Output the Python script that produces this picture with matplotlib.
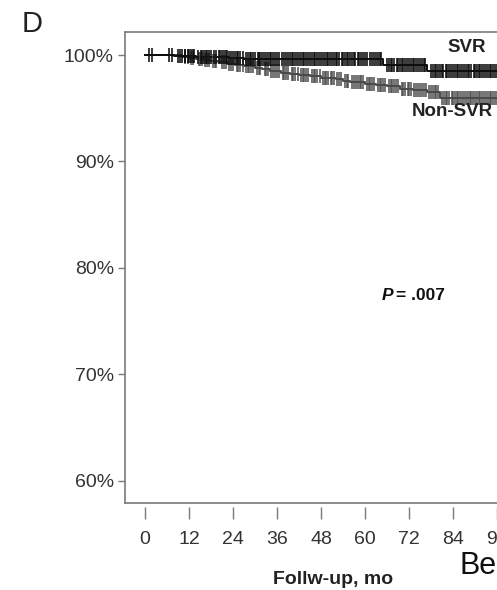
import numpy as np
import matplotlib
matplotlib.use("Agg")
import matplotlib.pyplot as plt

plt.rcParams["font.family"] = ["Liberation Sans", "DejaVu Sans"]

# Kaplan-Meier steps: (month, cumulative survival %)
svr_times = [0, 8, 14, 19, 23, 27, 65, 77]
svr_surv = [100.0, 99.9, 99.85, 99.78, 99.72, 99.65, 99.08, 98.5]

nonsvr_times = [0, 10, 12, 14, 16, 18, 20, 22.5, 24.5, 27, 30, 32, 34, 37, 39.5,
                42, 45, 48, 52, 54, 56, 60, 63, 66, 69.5, 73, 77, 80.5]
nonsvr_surv = [100.0, 99.85, 99.75, 99.6, 99.5, 99.4, 99.3, 99.2, 99.1, 98.95,
               98.8, 98.65, 98.5, 98.35, 98.2, 98.1, 98.0, 97.85, 97.7, 97.55,
               97.45, 97.3, 97.2, 97.05, 96.8, 96.7, 96.55, 95.95]

# Censoring times (months)
svr_censor = [1, 2, 6.5, 7.5, 9, 9.6, 10, 10.8, 11, 11.7, 12, 12.6, 13, 13.4,
              14.5, 15.2, 15.5, 16, 16.7, 17, 17.5, 18, 18.8, 19.5, 20.1, 20.5,
              21, 21.6, 22, 22.4, 23, 23.5, 24, 24.5, 25.1, 25.5, 26, 26.6, 27.5,
              28, 28.6, 29, 29.5, 30, 30.7, 31, 31.5, 32, 32.5, 33, 33.6, 34,
              34.5, 35, 35.4, 36, 36.6, 37.5, 38, 38.5, 39, 39.6, 40, 40.5, 41,
              41.5, 42, 42.6, 43, 43.5, 44, 44.5, 45, 45.5, 46, 46.5, 47, 47.4,
              48, 48.5, 49, 49.6, 50, 50.5, 51, 51.5, 52, 52.5, 53, 53.6, 54, 54.5,
              55, 55.5, 56, 56.5, 57, 57.4, 58, 58.5, 59, 59.5, 60, 60.5, 61.5,
              62, 62.5, 63, 63.5, 64, 64.5, 66, 66.5, 67, 67.5, 68, 68.6, 69,
              69.5, 70, 70.5, 71, 71.5, 72, 72.6, 73, 73.5, 74, 74.5, 75, 75.5,
              76, 76.5, 78, 78.5, 79, 79.5, 80, 80.5, 81, 81.4, 82, 82.5, 83,
              83.5, 84, 84.6, 85, 85.5, 86, 86.5, 87, 87.5, 88, 88.5, 89, 89.6,
              90, 90.5, 91, 91.5, 92, 92.5, 93, 93.5, 94, 94.5, 95, 95.5, 96,
              96.5, 97, 98, 99, 100, 101]
nonsvr_censor = [11, 11.6, 12.5, 13, 14.6, 15, 15.5, 16.5, 17, 17.5, 18.6, 19,
                 19.5, 21, 21.5, 22, 23, 23.5, 24, 25, 25.5, 26, 26.6, 27.5, 28,
                 28.5, 29, 29.5, 30.5, 31, 31.5, 32.6, 33, 33.5, 34.5, 35, 35.5,
                 36, 36.5, 37.6, 38, 38.5, 39, 40, 40.5, 41, 41.6, 42.5, 43, 43.5,
                 44, 44.5, 45.5, 46, 46.5, 47, 47.6, 48.5, 49, 49.5, 50, 50.6, 51,
                 51.5, 52.5, 53, 53.5, 54.5, 55, 55.5, 56.5, 57, 57.5, 58, 58.6,
                 59, 59.5, 60.5, 61, 61.5, 62, 62.5, 63.5, 64, 64.5, 65, 65.5,
                 66.6, 67, 67.5, 68, 68.5, 69, 70, 70.5, 71, 71.6, 72, 72.5, 73.5,
                 74, 74.5, 75, 75.5, 76, 76.6, 77.5, 78, 78.5, 79, 79.5, 80, 81,
                 81.5, 82, 82.5, 83, 83.6, 84, 84.5, 85, 85.5, 86, 86.5, 87, 87.5,
                 88, 88.6, 89, 89.5, 90, 90.5, 91, 91.5, 92, 92.5, 93, 93.6, 94,
                 94.5, 95, 95.5, 96, 96.5, 97, 98, 99, 100, 101]

x_ticks = [0, 12, 24, 36, 48, 60, 72, 84, 96]
y_ticks = [60, 70, 80, 90, 100]
y_labels = ["60%", "70%", "80%", "90%", "100%"]

W, H = 497, 590
fig = plt.figure(figsize=(W / 100, H / 100), dpi=100)
ax = fig.add_axes([125 / W, (H - 503) / H, (519 - 125) / W, 471 / H])
ax.set_xlim(-5.45, 102)
ax.set_ylim(57.93, 102.16)

spine_col = "#7a7a7a"
for side in ("left", "top", "bottom"):
    ax.spines[side].set_color(spine_col)
    ax.spines[side].set_linewidth(1.2)
ax.spines["right"].set_visible(False)


def km_curve(times, surv, censor, color, alpha):
    t = list(times) + [102]
    s = list(surv) + [surv[-1]]
    ax.step(t, s, where="post", color=color, lw=1.4, zorder=3)
    idx = np.searchsorted(times, censor, side="right") - 1
    cy = np.asarray(surv)[idx]
    ax.plot(censor, cy, ls="none", marker="|", ms=10.5, mew=1.35,
            color=color, alpha=alpha, zorder=4)


km_curve(nonsvr_times, nonsvr_surv, nonsvr_censor, "#4a4a4a", 0.8)
km_curve(svr_times, svr_surv, svr_censor, "#0d0d0d", 0.85)

# y axis
ax.set_yticks(y_ticks)
ax.set_yticklabels(y_labels)
ax.tick_params(axis="y", direction="out", length=5, width=1, color=spine_col,
               labelsize=14, labelcolor="#333333", pad=3)

# x axis: ticks detached from the frame
ax.set_xticks([])
sec = ax.secondary_xaxis(-4 / 471)
sec.spines["bottom"].set_visible(False)
sec.set_xticks(x_ticks)
sec.tick_params(axis="x", direction="out", length=8.5, width=1, color=spine_col,
                labelsize=14, labelcolor="#333333", pad=9)


def ftext(x, y, s, **kw):
    fig.text(x / W, 1 - y / H, s, **kw)


ftext(22, 24, "D", fontsize=21, va="center", ha="left", color="#222222")
ftext(447, 47, "SVR", fontsize=13.5, fontweight="bold", va="center", ha="left",
      color="#222222")
ftext(412, 112, "Non-SVR", fontsize=13.5, fontweight="bold", va="center",
      ha="left", color="#222222")
ftext(382, 296, "P", fontsize=12.5, fontweight="bold", fontstyle="italic",
      va="center", ha="left", color="#111111")
ftext(396, 296, "= .007", fontsize=12.5, fontweight="bold", va="center",
      ha="left", color="#111111")
ftext(333, 580, "Follw-up, mo", fontsize=14, fontweight="bold", va="center",
      ha="center", color="#222222")
ftext(460, 566, "Be", fontsize=22, va="center", ha="left", color="#111111")

fig.savefig("out.png", dpi=100)
